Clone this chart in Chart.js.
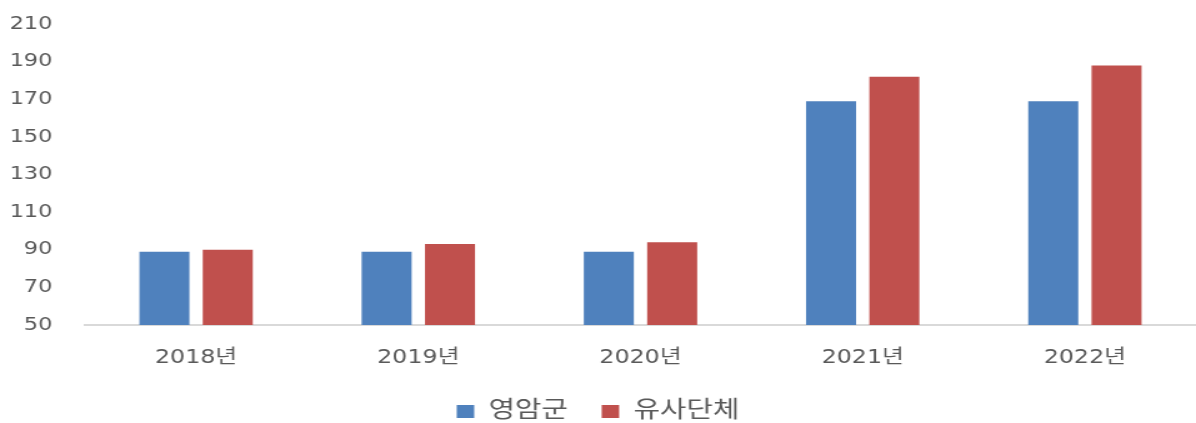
<!DOCTYPE html>
<html>
<head>
<meta charset="utf-8">
<script src="https://cdn.jsdelivr.net/npm/chart.js@4/dist/chart.umd.min.js"></script>
<style>
  html, body { margin: 0; padding: 0; background: #fff; }
  #wrap { width: 1196px; height: 423px; }
  /* the original picture is a horizontally stretched image, so draw narrow and stretch */
  #chart { display: block; width: 1196px; height: 423px; }
</style>
</head>
<body>
<div id="wrap"><canvas id="chart" width="957" height="423" style="width:1196px;height:423px"></canvas></div>
<script>
// categories and series
const years = ['2018년', '2019년', '2020년', '2021년', '2022년'];
const yeongam = [89, 89, 89, 169, 169];
const similar = [90, 93, 94, 182, 188];
const seriesNames = ['영암군', '유사단체'];

const fontFamily = "'DejaVu Sans', 'Noto Sans CJK KR', sans-serif";
const textColor = '#595959';

// fixed legend height so the legend sits where it does in the picture
const legendFit = {
    id: 'legendFit',
    beforeLayout(chart) {
        const legend = chart.legend;
        if (legend && !legend._fitPatched) {
            const fit = legend.fit;
            legend.fit = function () {
                fit.call(this);
                this.height = 50;
            };
            legend._fitPatched = true;
        }
    }
};

const ctx = document.getElementById('chart').getContext('2d');

new Chart(ctx, {
    type: 'bar',
    data: {
        labels: years,
        datasets: [
            {
                label: seriesNames[0],
                data: yeongam,
                backgroundColor: '#4f81bd',
                categoryPercentage: 0.57,
                barPercentage: 0.79
            },
            {
                label: seriesNames[1],
                data: similar,
                backgroundColor: '#c0504d',
                categoryPercentage: 0.57,
                barPercentage: 0.79
            }
        ]
    },
    options: {
        responsive: false,
        animation: false,
        layout: {
            padding: { top: 0, right: 0, left: 0, bottom: 0 }
        },
        scales: {
            y: {
                min: 50,
                max: 210,
                ticks: {
                    stepSize: 20,
                    color: textColor,
                    font: { family: fontFamily, size: 18 },
                    padding: 18
                },
                grid: { display: false },
                border: { display: false },
                afterFit: scale => {
                    scale.width = 68;
                    scale.paddingTop = 24;
                    scale.paddingBottom = 0;
                }
            },
            x: {
                ticks: {
                    color: textColor,
                    font: { family: fontFamily, size: 19 },
                    padding: 14
                },
                grid: { display: false },
                border: { display: true, color: '#d9d9d9', width: 2 },
                afterFit: scale => { scale.height = 48; }
            }
        },
        plugins: {
            legend: {
                position: 'bottom',
                labels: {
                    color: textColor,
                    font: { family: fontFamily, size: 23 },
                    boxWidth: 14,
                    boxHeight: 13,
                    padding: 27
                }
            },
            tooltip: { enabled: false }
        }
    },
    plugins: [legendFit]
});
</script>
</body>
</html>
